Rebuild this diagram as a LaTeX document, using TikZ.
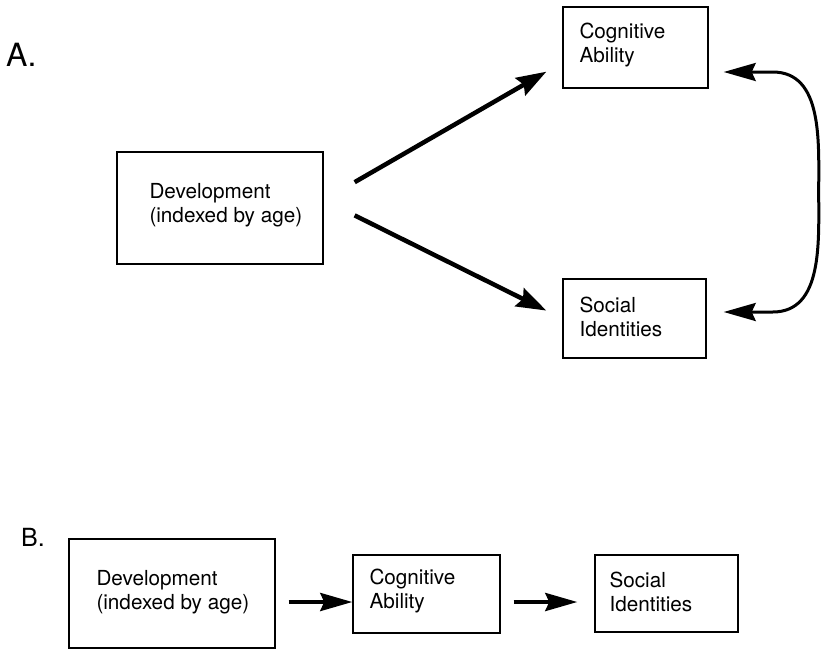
\documentclass[tikz,border=0pt]{standalone}
\usepackage{fontspec}
\setmainfont{TeX Gyre Heros}
\usetikzlibrary{arrows.meta}

\tikzset{
  box/.style={draw, line width=1.4pt, inner sep=0pt},
  txt/.style={anchor=west, align=left, inner sep=0pt, font=\fontsize{20.7}{24}\selectfont},
  fat/.style={line width=4.5pt, -{Stealth[length=30pt,width=20pt,inset=4pt]}},
  slim/.style={line width=4pt, -{Stealth[length=32pt,width=18pt,inset=4pt]}},
  twoway/.style={line width=3pt, {Stealth[length=32pt,width=18pt,inset=4pt]}-{Stealth[length=32pt,width=18pt,inset=4pt]}}
}

\begin{document}
\begin{tikzpicture}[x=1pt,y=-1pt]
\useasboundingbox (0,0) rectangle (822,651);

% part A
\node[anchor=west, inner sep=0pt, font=\fontsize{32}{36}\selectfont] (labA) at (6,55) {A.};
\node[box, minimum width=206pt, minimum height=112pt] (devA) at (220,208) {};
\node[txt] (devAtxt) at ([xshift=33pt,yshift=3pt]devA.west) {Development\\(indexed by age)};
\node[box, minimum width=145pt, minimum height=81pt] (cogA) at (635.5,47.5) {};
\node[txt] (cogAtxt) at ([xshift=17pt,yshift=2.5pt]cogA.west) {Cognitive\\Ability};
\node[box, minimum width=143pt, minimum height=79pt] (socA) at (634.5,318.5) {};
\node[txt] (socAtxt) at ([xshift=17pt,yshift=2pt]socA.west) {Social\\Identities};

\draw[fat, shorten <=35.7pt, shorten >=18.4pt] ([yshift=8pt]devA.east) -- ([yshift=-15pt]cogA.west);
\draw[fat, shorten <=34.5pt, shorten >=17.8pt] ([yshift=8pt]devA.east) -- (socA.west);
\draw[twoway] ([xshift=15pt,yshift=-24.5pt]cogA.east) -- ++(49,0)
  to[out=0,in=90] ++(46,120) to[out=-90,in=0] ++(-46,120)
  -- ([xshift=17pt,yshift=6.5pt]socA.east);

% part B
\node[anchor=west, inner sep=0pt, font=\fontsize{25}{30}\selectfont] (labB) at (21,537) {B.};
\node[box, minimum width=206pt, minimum height=109pt] (devB) at (172,593.5) {};
\node[txt] (devBtxt) at ([xshift=28pt,yshift=1.5pt]devB.west) {Development\\(indexed by age)};
\node[box, minimum width=147pt, minimum height=78pt] (cogB) at (426.5,594) {};
\node[txt] (cogBtxt) at ([xshift=17pt,yshift=3pt]cogB.west) {Cognitive\\Ability};
\node[box, minimum width=143pt, minimum height=77pt] (socB) at (666.5,593.5) {};
\node[txt] (socBtxt) at ([xshift=15pt,yshift=2pt]socB.west) {Social\\Identities};

\draw[slim, shorten <=13pt] ([yshift=-8.5pt]devB.east) -- ([yshift=-8pt]cogB.west);
\draw[slim, shorten <=13pt, shorten >=17pt] ([yshift=-8pt]cogB.east) -- ([yshift=-8.5pt]socB.west);
\end{tikzpicture}
\end{document}
